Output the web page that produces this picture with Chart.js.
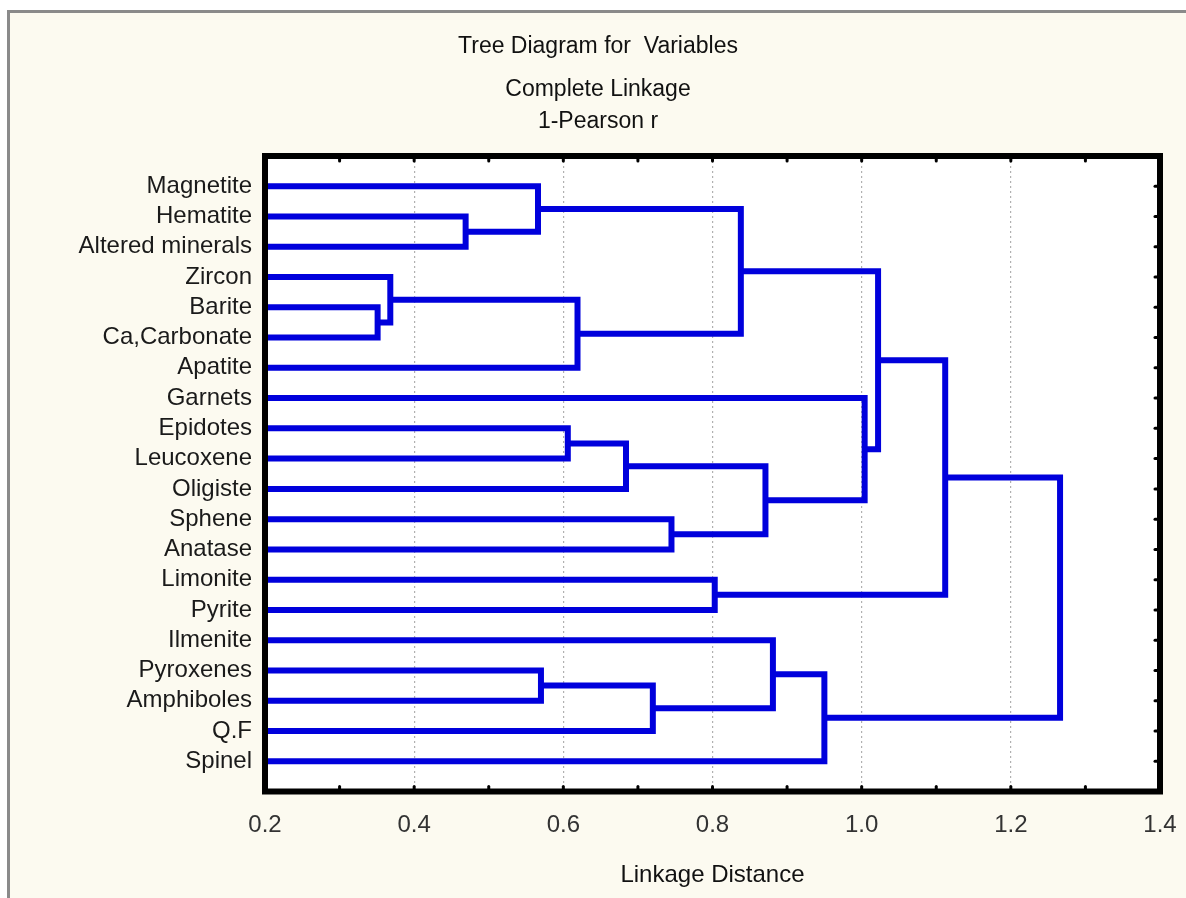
<!DOCTYPE html>
<html>
<head>
<meta charset="utf-8">
<script src="https://cdn.jsdelivr.net/npm/chart.js@4/dist/chart.umd.min.js"></script>
<style>
  html, body { margin: 0; padding: 0; background: #ffffff; }
  #frame { position: absolute; left: 7px; top: 10px; width: 1200px; height: 900px;
           background: #fcfaf0; border-top: 3px solid #8a8a8a; border-left: 3px solid #8a8a8a; }
  #wrap { position: absolute; left: 0; top: 0; width: 1186px; height: 898px; }
</style>
</head>
<body>
<div id="frame"></div>
<div id="wrap"><canvas id="c" width="1186" height="898"></canvas></div>
<script>
// ---- Data ----
const titleLines = ["Tree Diagram for  Variables"];
const subtitleLines = ["Complete Linkage", "1-Pearson r"];
const xAxisTitle = "Linkage Distance";

const leaves = ["Magnetite", "Hematite", "Altered minerals", "Zircon", "Barite", "Ca,Carbonate",
  "Apatite", "Garnets", "Epidotes", "Leucoxene", "Oligiste", "Sphene", "Anatase",
  "Limonite", "Pyrite", "Ilmenite", "Pyroxenes", "Amphiboles", "Q.F", "Spinel"];

// merges: node ids 0..19 are leaves, merge k creates node 20+k
const mergeLeft   = [1, 0, 4, 3, 23, 21, 8, 26, 11, 27, 7, 25, 13, 31, 16, 34, 15, 36, 33];
const mergeRight  = [2, 20, 5, 22, 6, 24, 9, 10, 12, 28, 29, 30, 14, 32, 17, 18, 35, 19, 37];
const mergeHeight = [0.469, 0.566, 0.351, 0.368, 0.619, 0.838, 0.606, 0.684, 0.745, 0.871,
  1.004, 1.022, 0.803, 1.112, 0.570, 0.720, 0.881, 0.950, 1.266];

const xMin = 0.2, xMax = 1.4, xStep = 0.2;

// ---- Build dendrogram link paths from the data ----
const nodeX = leaves.map(() => xMin);
const nodeY = leaves.map((_, i) => i + 1);
const datasets = [];
mergeHeight.forEach((h, k) => {
  const a = mergeLeft[k], b = mergeRight[k];
  datasets.push({
    data: [
      { x: nodeX[a], y: nodeY[a] },
      { x: h, y: nodeY[a] },
      { x: h, y: nodeY[b] },
      { x: nodeX[b], y: nodeY[b] }
    ]
  });
  nodeX.push(h);
  nodeY.push((nodeY[a] + nodeY[b]) / 2);
});

const LINE_COLOR = '#0000dc';
const FONT = "'Liberation Sans', Arial, sans-serif";

const boxPlugin = {
  id: 'box',
  beforeDraw(chart) {
    const { ctx, chartArea: a } = chart;
    ctx.save();
    ctx.fillStyle = '#ffffff';
    ctx.fillRect(a.left, a.top, a.right - a.left, a.bottom - a.top);
    ctx.restore();
  },
  afterDatasetsDraw(chart) {
    const { ctx, chartArea: a, scales } = chart;
    ctx.save();
    ctx.strokeStyle = '#000';
    ctx.lineCap = 'round';
    ctx.lineWidth = 3;
    const xs = scales.x;
    for (let i = 1; i < Math.round((xMax - xMin) / 0.1); i++) {
      const v = xMin + i * 0.1;
      const px = xs.getPixelForValue(v);
      ctx.beginPath(); ctx.moveTo(px, a.top + 2); ctx.lineTo(px, a.top + 5); ctx.stroke();
      ctx.beginPath(); ctx.moveTo(px, a.bottom - 2); ctx.lineTo(px, a.bottom - 5); ctx.stroke();
    }
    const ys = scales.y;
    leaves.forEach((_, i) => {
      const py = ys.getPixelForValue(i + 1);
      ctx.beginPath(); ctx.moveTo(a.right - 2, py); ctx.lineTo(a.right - 5, py); ctx.stroke();
    });
    ctx.lineCap = 'butt';
    ctx.lineWidth = 6;
    ctx.strokeRect(a.left, a.top, a.right - a.left, a.bottom - a.top);
    ctx.restore();
  }
};

new Chart(document.getElementById('c'), {
  type: 'line',
  data: { datasets },
  options: {
    responsive: false,
    animation: false,
    devicePixelRatio: 1,
    layout: { padding: { left: 36, right: 26, top: 0, bottom: 0 } },
    elements: {
      line: { borderColor: LINE_COLOR, borderWidth: 6, tension: 0, fill: false,
              borderJoinStyle: 'miter', borderCapStyle: 'butt' },
      point: { radius: 0, hoverRadius: 0 }
    },
    plugins: {
      legend: { display: false },
      tooltip: { enabled: false },
      title: {
        display: true, text: titleLines, color: '#111',
        font: { family: FONT, size: 23, weight: 'normal', lineHeight: 1.2 },
        padding: { top: 33, bottom: 0 }
      },
      subtitle: {
        display: true, text: subtitleLines, color: '#111',
        font: { family: FONT, size: 23, weight: 'normal', lineHeight: 1.4 },
        padding: { top: 13, bottom: 18 }
      }
    },
    scales: {
      x: {
        type: 'linear', min: xMin, max: xMax,
        ticks: {
          stepSize: xStep, padding: 19, color: '#333',
          font: { family: FONT, size: 24 },
          callback: v => Number(v).toFixed(1)
        },
        grid: {
          drawTicks: false, lineWidth: 1.2,
          color: ctx => (ctx.tick && ctx.tick.value > xMin + 1e-6 && ctx.tick.value < xMax - 1e-6) ? '#b0b0b0' : 'rgba(0,0,0,0)'
        },
        border: { display: false, dash: [2, 3] },
        title: {
          display: true, text: xAxisTitle, color: '#111',
          font: { family: FONT, size: 24 },
          padding: { top: 0, bottom: 8 }
        },
        afterFit: s => { s.height = 106.5; s.paddingLeft = 0; s.paddingRight = 0; }
      },
      y: {
        type: 'linear', min: 0, max: leaves.length + 1, reverse: true,
        afterBuildTicks: s => { s.ticks = leaves.map((_, i) => ({ value: i + 1 })); },
        ticks: {
          autoSkip: false, padding: 13, color: '#1a1a1a',
          font: { family: FONT, size: 24 },
          callback: v => leaves[Math.round(v) - 1] || ''
        },
        grid: { display: false, drawTicks: false },
        border: { display: false },
        afterFit: s => { s.width = 229; }
      }
    }
  },
  plugins: [boxPlugin]
});
</script>
</body>
</html>
